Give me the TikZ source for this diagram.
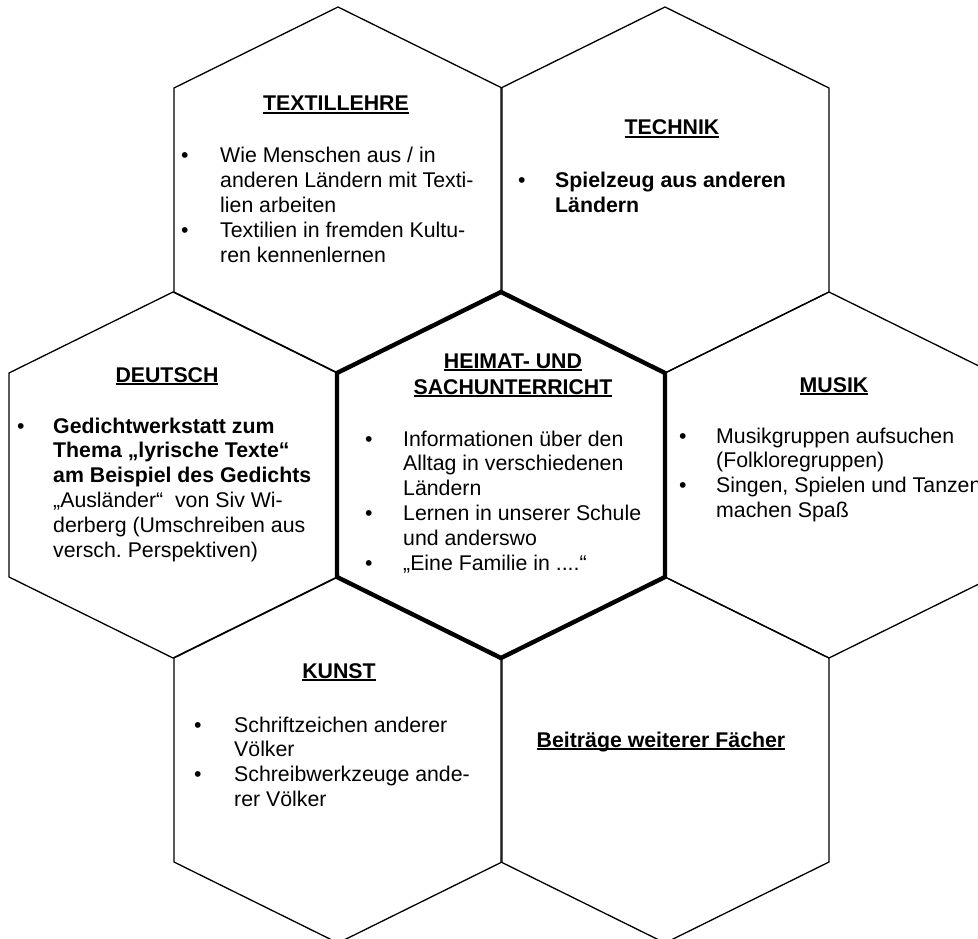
\documentclass[tikz,border=0pt]{standalone}
\usepackage{fontspec}
\setmainfont{Liberation Sans}
\newcommand\ulx[1]{\setbox0\hbox{#1}\rlap{\rule[-3.2pt]{\wd0}{1.8pt}}\box0}
\tikzset{
  hexa/.pic={\draw (0,-183) -- (164,-102) -- (164,102) -- (0,183) -- (-164,102) -- (-164,-102) -- cycle;},
  hexthin/.style={line width=1.3pt},
  hexthick/.style={line width=4.4pt},
  txt/.style={inner sep=0pt, font=\fontsize{21.3}{24.8}\selectfont},
  titlenode/.style={inner sep=0pt, anchor=base, font=\fontsize{21.3}{24.8}\selectfont\bfseries},
  body/.style={txt, anchor=base west}
}
\begin{document}
\begin{tikzpicture}[x=1pt,y=-1pt]
\useasboundingbox (0,0) rectangle (978,939);
\clip (0,0) rectangle (978,939);
% hexagon centres
\coordinate (cTex) at (338,190);
\coordinate (cTec) at (665,190);
\coordinate (cDeu) at (173,475);
\coordinate (cHei) at (501,475);
\coordinate (cMus) at (829,475);
\coordinate (cKun) at (338,760);
\coordinate (cBei) at (665,760);
% thin hexagons
\pic[hexthin] at (cTex) {hexa};
\pic[hexthin] at (cTec) {hexa};
\pic[hexthin] at (cDeu) {hexa};
\pic[hexthin] at (cMus) {hexa};
\pic[hexthin] at (cKun) {hexa};
\pic[hexthin] at (cBei) {hexa};
% thick centre hexagon
\pic[hexthick] at (cHei) {hexa};

% TEXTILLEHRE
\node[titlenode] (tTex) at (336,111) {\ulx{TEXTILLEHRE}};
\node[body] (bTex) at (181,163) {\begin{tabular}[t]{@{}p{39pt}@{}l@{}}
•& Wie Menschen aus / in\\
 & anderen Ländern mit Texti-\\
 & lien arbeiten\\
•& Textilien in fremden Kultu-\\
 & ren kennenlernen
\end{tabular}};

% TECHNIK
\node[titlenode] (tTec) at (672,135) {\ulx{TECHNIK}};
\node[body] (bTec) at (518,188) {\begin{tabular}[t]{@{}p{37pt}@{}l@{}}
•& \textbf{Spielzeug aus anderen}\\
 & \textbf{Ländern}
\end{tabular}};

% DEUTSCH
\node[titlenode] (tDeu) at (167,382) {\ulx{DEUTSCH}};
\node[body] (bDeu) at (17,433) {\begin{tabular}[t]{@{}p{36pt}@{}l@{}}
•& \textbf{Gedichtwerkstatt zum}\\
 & \textbf{Thema „lyrische Texte“}\\
 & \textbf{am Beispiel des Gedichts}\\
 & „Ausländer“\ \ von Siv Wi-\\
 & derberg (Umschreiben aus\\
 & versch.\ Perspektiven)
\end{tabular}};

% HEIMAT- UND SACHUNTERRICHT
\node[titlenode] (tHei1) at (513,368) {\ulx{HEIMAT- UND}};
\node[titlenode] (tHei2) at (513,394) {\ulx{SACHUNTERRICHT}};
\node[body] (bHei) at (365,446) {\begin{tabular}[t]{@{}p{38pt}@{}l@{}}
•& Informationen über den\\
 & Alltag in verschiedenen\\
 & Ländern\\
•& Lernen in unserer Schule\\
 & und anderswo\\
•& „Eine Familie in ....“
\end{tabular}};

% MUSIK
\node[titlenode] (tMus) at (834,392) {\ulx{MUSIK}};
\node[body] (bMus) at (679,443) {\begin{tabular}[t]{@{}p{37pt}@{}l@{}}
•& Musikgruppen aufsuchen\\
 & (Folkloregruppen)\\
•& Singen, Spielen und Tanzen\\
 & machen Spaß
\end{tabular}};

% KUNST
\node[titlenode] (tKun) at (339,678) {\ulx{KUNST}};
\node[body] (bKun) at (194,732) {\begin{tabular}[t]{@{}p{40pt}@{}l@{}}
•& Schriftzeichen anderer\\
 & Völker\\
•& Schreibwerkzeuge ande-\\
 & rer Völker
\end{tabular}};

% Beitraege
\node[titlenode] (tBei) at (661,747) {\ulx{Beiträge weiterer Fächer}};
\end{tikzpicture}
\end{document}
